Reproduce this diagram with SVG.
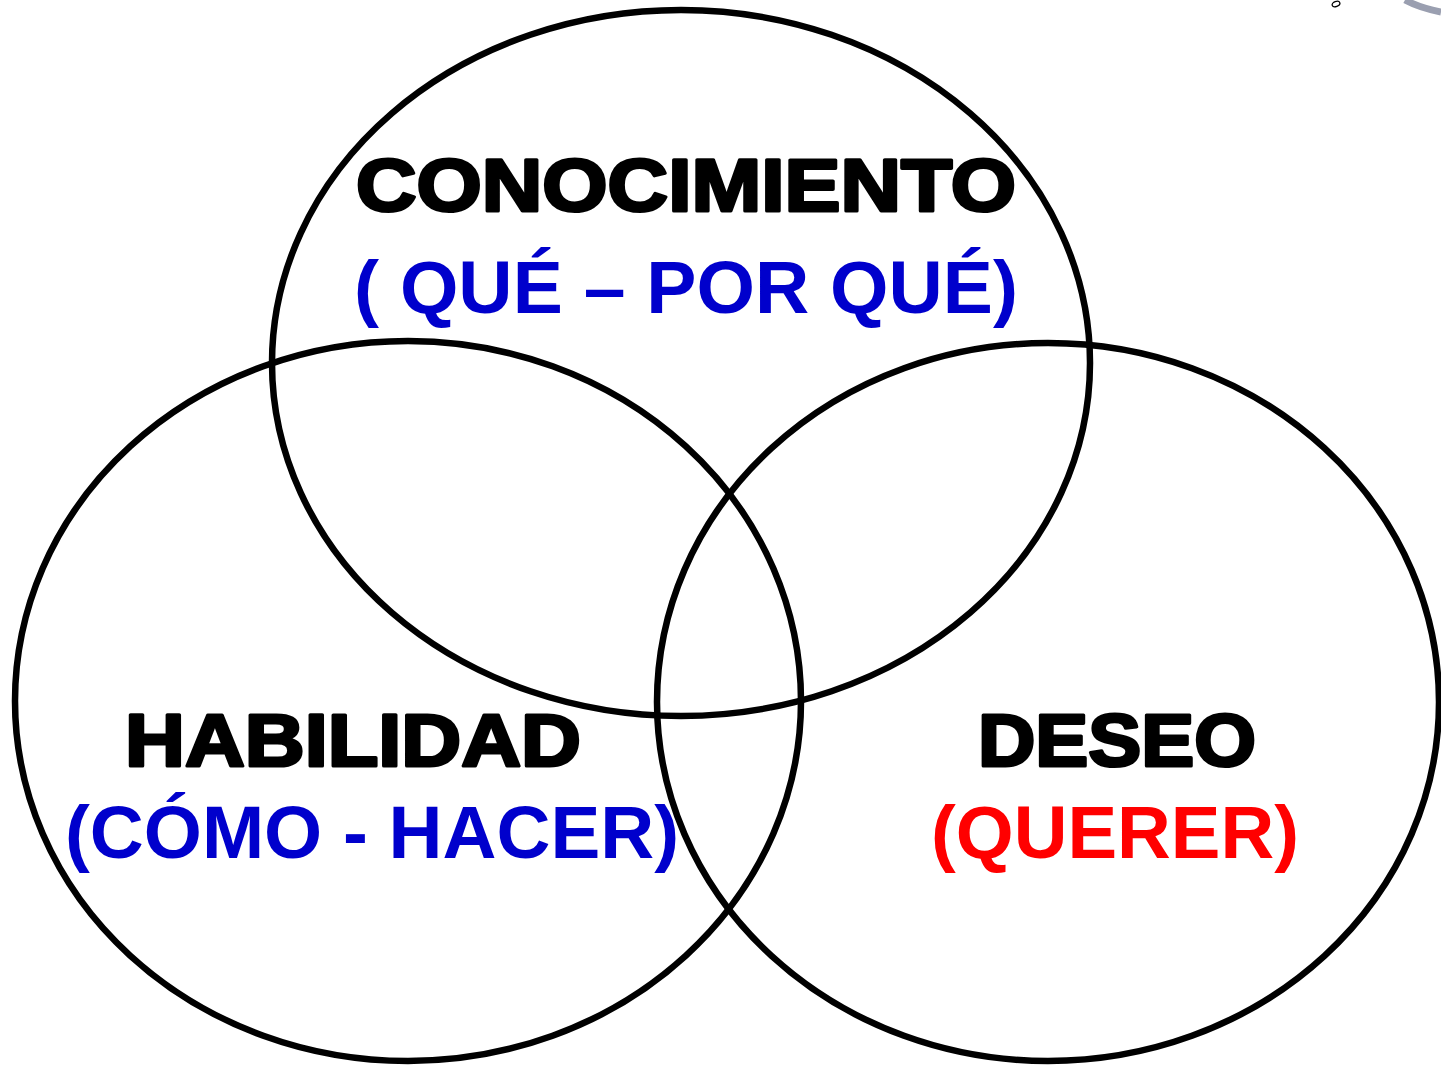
<svg xmlns="http://www.w3.org/2000/svg" width="1441" height="1065" viewBox="0 0 1441 1065">
<style>
.c{fill:none;stroke:#000;stroke-width:6.5}
.t{font-family:"Liberation Sans",Arial,sans-serif;font-weight:bold;font-size:75px;text-anchor:middle}
.h{fill:#000;stroke:#000;stroke-width:3.2;stroke-linejoin:round}
.b{fill:#0000CC}
.r{fill:#FF0000}
</style>
<rect width="1441" height="1065" fill="#fff"/>
<g id="artifact">
<ellipse cx="1336" cy="4" rx="4" ry="2.5" fill="none" stroke="#000" stroke-width="1.3" transform="rotate(-20 1336 4)"/>
<path d="M1405,0 Q1420,8 1441,12" fill="none" stroke="#9a9fb0" stroke-width="7"/>
</g>
<g id="connectors"></g>
<g id="conocimiento">
<ellipse class="c" cx="681" cy="363" rx="409" ry="353"/>
<text class="t h" x="686" y="211" textLength="660" lengthAdjust="spacingAndGlyphs">CONOCIMIENTO</text>
<text class="t b" x="686" y="313" textLength="664" lengthAdjust="spacingAndGlyphs">( QUÉ – POR QUÉ)</text>
</g>
<g id="habilidad">
<ellipse class="c" cx="408" cy="701" rx="393" ry="360"/>
<text class="t h" x="353" y="766" textLength="456" lengthAdjust="spacingAndGlyphs">HABILIDAD</text>
<text class="t b" x="372" y="858" textLength="614" lengthAdjust="spacingAndGlyphs">(CÓMO - HACER)</text>
</g>
<g id="deseo">
<ellipse class="c" cx="1048" cy="702" rx="391" ry="359"/>
<text class="t h" x="1117" y="766" textLength="278" lengthAdjust="spacingAndGlyphs">DESEO</text>
<text class="t r" x="1115" y="858" textLength="368" lengthAdjust="spacingAndGlyphs">(QUERER)</text>
</g>
</svg>
